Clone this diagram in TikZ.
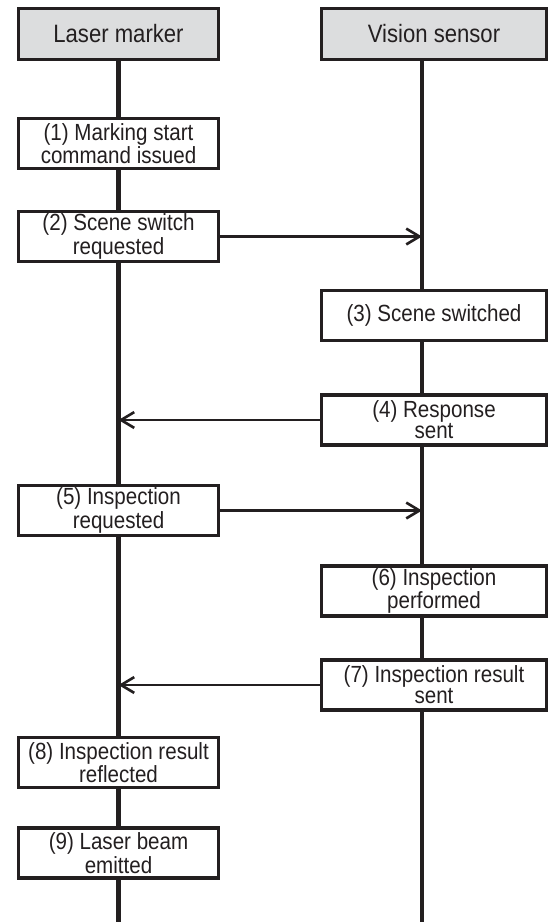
\documentclass[tikz,border=0pt]{standalone}
\usepackage{fontspec}
\setmainfont{Liberation Sans}[FakeStretch=0.88]
\usetikzlibrary{positioning,arrows.meta,backgrounds}
\definecolor{ink}{RGB}{35,31,32}
\definecolor{headfill}{RGB}{220,221,222}

\begin{document}
\begin{tikzpicture}[
  headbox/.style={rectangle,draw=ink,fill=headfill,line width=1.8pt,minimum height=1.02cm,
                  font=\fontsize{14.3}{16}\selectfont,text=ink,inner sep=2pt},
  stepbox/.style={rectangle,draw=ink,fill=white,line width=1.8pt,minimum height=1.0cm,
                  minimum width=4.0cm,font=\fontsize{13.3}{12}\selectfont,text=ink,
                  align=center,inner sep=1pt},
  wide/.style={minimum width=4.5cm},
  lifeline/.style={draw=ink,line width=2.6pt},
  msg/.style={-{Straight Barb[length=7.5pt,width=9pt]},draw=ink,line width=1.5pt},
]
\useasboundingbox (0,0) rectangle (10.98,-18.44);

% Headers
\node[headbox,minimum width=4.0cm] (lm) at (2.37,-0.68) {Laser marker};
\node[headbox,minimum width=4.5cm] (vs) at (8.68,-0.68) {Vision sensor};

\coordinate (vsline) at (8.44,-1.2);
\coordinate (bottom) at (0,-18.44);

% Steps on the laser marker side
\node[stepbox] (s1) at (2.37,-2.87) {(1) Marking start\\command issued};
\node[stepbox] (s2) at (2.37,-4.73) {(2) Scene switch\\requested};
\node[stepbox] (s5) at (2.37,-10.21) {(5) Inspection\\requested};
\node[stepbox] (s8) at (2.37,-15.25) {(8) Inspection result\\reflected};
\node[stepbox] (s9) at (2.37,-17.06) {(9) Laser beam\\emitted};

% Steps on the vision sensor side
\node[stepbox,wide] (s3) at (8.68,-6.31) {(3) Scene switched};
\node[stepbox,wide] (s4) at (8.68,-8.40) {(4) Response\\sent};
\node[stepbox,wide] (s6) at (8.68,-11.82) {(6) Inspection\\performed};
\node[stepbox,wide] (s7) at (8.68,-13.70) {(7) Inspection result\\sent};

% Lifelines
\begin{scope}[on background layer]
  \draw[lifeline] (lm.south) -- (lm.south |- bottom);
  \draw[lifeline] (vsline) -- (vsline |- bottom);
\end{scope}

% Messages
\draw[msg] (s2) -- (s2 -| vsline);
\draw[msg] (s4) -- (s4 -| lm);
\draw[msg] (s5) -- (s5 -| vsline);
\draw[msg] (s7) -- (s7 -| lm);

\end{tikzpicture}
\end{document}
